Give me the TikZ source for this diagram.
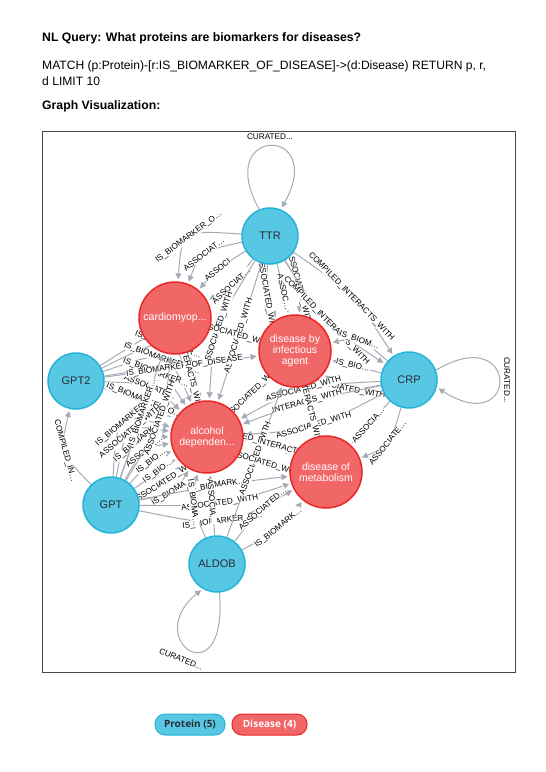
\documentclass[tikz,border=0pt]{standalone}
\usepackage{fontspec}
\setmainfont{Liberation Sans}
\newfontfamily\legendfont{Open Sans}
\usepackage{xcolor}
\usetikzlibrary{arrows.meta,calc,backgrounds}
\definecolor{protfill}{HTML}{57C7E3}
\definecolor{protline}{HTML}{23B3D7}
\definecolor{disfill}{HTML}{F16667}
\definecolor{disline}{HTML}{EB2728}
\definecolor{relgray}{HTML}{A5ABB6}
\definecolor{nodetext}{HTML}{2A2C34}

\begin{document}
\begin{tikzpicture}[x=1pt,y=1pt,
  prot/.style={circle,draw=protline,fill=protfill,line width=1.5pt,minimum size=56pt,inner sep=0pt,
    text=nodetext,font=\fontsize{11}{11.5}\selectfont},
  dis/.style={circle,draw=disline,fill=disfill,line width=1.5pt,minimum size=72pt,inner sep=0pt,
    text=white,align=center,font=\fontsize{10.5}{11}\selectfont},
  rel/.style={-{Triangle[width=6pt,length=6pt]},draw=relgray,line width=1pt,shorten >=2pt},
  rlab/.style={sloped,fill=white,inner sep=0.4pt,text=black,font=\fontsize{8.2}{9}\selectfont},
  looplab/.style={inner sep=0.5pt,font=\fontsize{8.2}{9}\selectfont},
  pill/.style={rounded corners=10pt,line width=1pt,minimum height=21pt,inner xsep=2pt,
    font=\legendfont\bfseries\fontsize{10}{11}\selectfont}]
\useasboundingbox (0,0) rectangle (546,-772);
% --- query text ---
\node[anchor=base west,inner sep=0pt,font=\bfseries\fontsize{12.25}{14}\selectfont] (nl) at (42,-41.5)
  {NL Query: What proteins are biomarkers for diseases?};
\node[anchor=base west,inner sep=0pt,font=\fontsize{12.1}{14}\selectfont] (cy1) at (42,-69)
  {MATCH (p:Protein)-[r:IS\_BIOMARKER\_OF\_DISEASE]->(d:Disease) RETURN p, r,};
\node[anchor=base west,inner sep=0pt,font=\fontsize{12.1}{14}\selectfont] (cy2) at (42,-85.5)
  {d LIMIT 10};
\node[anchor=base west,inner sep=0pt,font=\bfseries\fontsize{12.25}{14}\selectfont] (gv) at (42,-109)
  {Graph Visualization:};
\draw[gray!55!black,line width=0.9pt] (42,-131) rectangle (515,-672);
% --- proteins and diseases ---
\node[prot] (ttr) at (270,-236) {TTR};
\node[prot] (crp) at (409,-380) {CRP};
\node[prot] (gpt2) at (76,-381) {GPT2};
\node[prot] (gpt) at (111,-505) {GPT};
\node[prot] (aldob) at (217,-564) {ALDOB};
\node[dis] (card) at (175,-318) {cardiomyop...};
\node[dis] (inf) at (295,-351) {disease by\\infectious\\agent};
\node[dis] (alc) at (207,-437) {alcohol\\dependen...};
\node[dis] (met) at (326,-472) {disease of\\metabolism};
% --- relationships (offset of the arc in pt, + = left of source->target) ---
\begin{scope}[on background layer]
\foreach \s/\t/\h/\l in {
  ttr/card/-62/IS\_BIOMARKER\_O\ldots, ttr/card/-34/ASSOCIAT\ldots, ttr/card/-10/ASSOCI,
  ttr/card/14/ASSOCIAT\ldots,
  ttr/inf/-18/ASSOCIATED\_WITH, ttr/inf/2/ASSOC\ldots, ttr/inf/20/ASSOCIATED\_WITH,
  ttr/alc/0/ASSOCIATED\_WITH, ttr/alc/-26/ASSOCIATED\_WITH,
  ttr/crp/20/COMPILED\_INTERACTS\_WITH, ttr/crp/-22/COMPILED\_INTERACTS\_WITH,
  crp/inf/-30/IS\_BIOM\ldots, crp/inf/0/IS\_BIO\ldots, crp/inf/27/ASSOCIATED\_WITH,
  crp/alc/-24/ASSOCIATED\_WITH, crp/alc/-8/INTERACTS\_WITH, crp/alc/22/ASSOCIATED\_WITH,
  crp/met/0/ASSOCIA\ldots, crp/met/30/ASSOCIATE\ldots,
  gpt2/alc/104/IS\_BIOMA\ldots, gpt2/alc/84/IS\_BIOMARKER\ldots, gpt2/alc/65/IS\_BIOMARKER\_O\ldots,
  gpt2/alc/46/IS\_BIOMARKER\ldots, gpt2/alc/28/ASSOCIATE\ldots, gpt2/alc/10/IS\_BIOMARKER\_O\ldots,
  gpt2/inf/0/IS\_BIOMARKER\_OF\_DISEASE,
  gpt/gpt2/35/COMPILED\_IN\ldots,
  gpt/alc/72/IS\_BIOMARKER\ldots, gpt/alc/57/ASSOCIATED\_WITH, gpt/alc/42/IS\_BIOMARK\ldots,
  gpt/alc/28/ASSOCIA\ldots, gpt/alc/14/IS\_BIO\ldots, gpt/alc/0/IS\_BIO\ldots,
  gpt/alc/-14/ASSOCIATED\_WITH, gpt/alc/-28/IS\_BIOMA\ldots,
  gpt/card/0/IS\_BIOMARKER\ldots, gpt/card/-22/ASSOCIATED\_WITH,
  gpt/met/-40/IS\_BIOMARKER\_O\ldots, gpt/met/-18/ASSOCIATED\_WITH, gpt/met/4/IS\_BIOMARK\ldots,
  aldob/alc/0/ASSOCIA\ldots, aldob/alc/22/IS\_BIOMA\ldots, aldob/inf/0/ASSOCIATED\_WITH,
  aldob/met/15/ASSOCIATED\ldots, aldob/met/-14/IS\_BIOMARK\ldots,
  inf/card/0/ASSOCIATED\_WITH, alc/card/0/INTERACTS\_WITH, inf/alc/0/ASSOCIATED\_WITH,
  inf/met/0/INTERACTS\_WITH, alc/met/12/COMPILED\_INTERACTS\_WITH, alc/met/-10/ASSOCIATED\_WITH}
  \draw[rel] (\s) .. controls ($(\s)!.5!(\t)!\h pt!90:(\t)$) .. (\t) node[rlab,pos=.5] {\l};
% --- self loops ---
\draw[rel] (ttr.112) .. controls (212,-125) and (328,-125) .. (ttr.68);
\draw[rel] (crp.20) .. controls (520,-320) and (520,-440) .. (crp.-15);
\draw[rel] (aldob.-85) .. controls (228,-700) and (140,-640) .. (aldob.-120);
\end{scope}
\node[looplab] (ttrcur) at (270,-137) {CURATED...};
\node[looplab,rotate=-90] (crpcur) at (507,-380) {CURATED...};
\node[looplab,rotate=-22] (aldobcur) at (181,-659) {CURATED...};
% --- legend ---
\node[pill,fill=protfill,draw=protline,text=nodetext,minimum width=70pt] (lp) at (190,-724.5) {Protein (5)};
\node[pill,fill=disfill,draw=disline,text=white,minimum width=75pt] (ld) at (269.5,-724.5) {Disease (4)};
\end{tikzpicture}
\end{document}
